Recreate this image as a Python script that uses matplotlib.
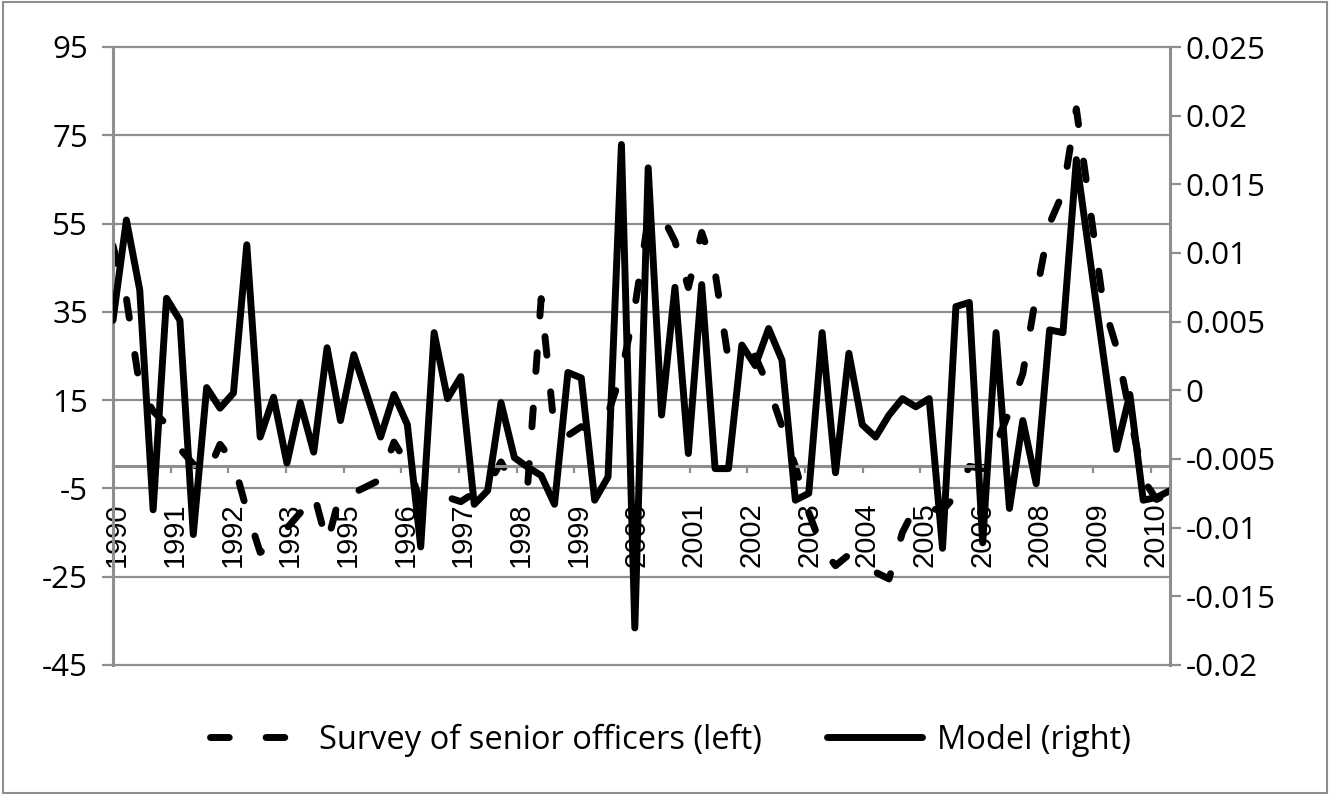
import numpy as np
import matplotlib
matplotlib.use("Agg")
import matplotlib.pyplot as plt
import matplotlib.transforms as mtransforms
from matplotlib.patches import Rectangle

survey = [50, 38, 18, 12.5, 9.5, 4, 0.5, -2, 5, 1,
          -10, -19.5, -17.5, -14, -10.5, -6, -17.5, -6, -6, -4.5,
          -3, 5.5, 0.5, -8, -5.5, -7, -8, -6, -4.5, 1,
          -4.5, -4, 38, 8, 7, 9, 8, 12, 21, 36,
          56, 57, 51, 40.5, 53, 44, 24, 24, 25, 18,
          9, 0, -10.5, -18.5, -22.5, -20, -21.5, -24, -25.5, -15,
          -9, -9.5, -10, -6.5, 0, -0.5, 5, 12.5, 21, 39,
          55, 62, 81, 59, 37, 27, 12, -3, -7.5, -6]

model = [0.0051, 0.0124, 0.0073, -0.0087, 0.0067, 0.0051, -0.0105, 0.0002, -0.0013, -0.0002,
         0.0106, -0.0034, -0.0005, -0.0053, -0.0009, -0.0045, 0.0031, -0.0022, 0.0026, -0.0004,
         -0.0034, -0.0003, -0.0025, -0.0114, 0.0042, -0.0006, 0.0010, -0.0083, -0.0073, -0.0009,
         -0.0049, -0.0056, -0.0062, -0.0083, 0.0013, 0.0009, -0.0080, -0.0063, 0.0179, -0.0173,
         0.0162, -0.0018, 0.0075, -0.0046, 0.0077, -0.0057, -0.0057, 0.0033, 0.0018, 0.0045,
         0.0022, -0.0080, -0.0075, 0.0042, -0.0060, 0.0027, -0.0025, -0.0034, -0.0018, -0.0006,
         -0.0012, -0.0006, -0.0115, 0.0061, 0.0064, -0.0111, 0.0042, -0.0086, -0.0022, -0.0068,
         0.0044, 0.0042, 0.0168, 0.0097, 0.0027, -0.0043, -0.0003, -0.0080, -0.0078, -0.0073]

year_labels = ["1990", "1991", "1992", "1993", "1995", "1996", "1997", "1998", "1999", "2000",
               "2001", "2002", "2003", "2004", "2005", "2006", "2008", "2009", "2010"]

left_ticks = [95, 75, 55, 35, 15, -5, -25, -45]
left_labels = ["95", "75", "55", "35", "15", "-5", "-25", "-45"]
right_ticks = [0.025, 0.02, 0.015, 0.01, 0.005, 0, -0.005, -0.01, -0.015, -0.02]
right_labels = ["0.025", "0.02", "0.015", "0.01", "0.005", "0", "-0.005", "-0.01", "-0.015", "-0.02"]

GRAY = "#8e8e8e"
FONT = ["Open Sans", "DejaVu Sans"]
YEAR_FONT = ["Liberation Sans", "DejaVu Sans"]

x = np.arange(len(survey))
label_step = 4.31  # labels sit a little more than 4 quarters apart
label_pos = np.arange(len(year_labels)) * label_step

fig = plt.figure(figsize=(13.3, 7.95), dpi=100)
fig.patches.append(Rectangle((0.002, 0.003), 0.996, 0.994, transform=fig.transFigure,
                             fill=False, edgecolor=GRAY, linewidth=1.5))

ax = fig.add_axes([113 / 1330, 1 - 665 / 795, 1057 / 1330, 618 / 795])
ax2 = ax.twinx()

ax.plot(x, survey, color="black", linewidth=5, linestyle=(0, (2.7, 5.3)),
        dash_capstyle="round", dash_joinstyle="round",
        label="Survey of senior officers (left)")
ax2.plot(x, model, color="black", linewidth=5, solid_joinstyle="round",
         solid_capstyle="round", label="Model (right)")

ax.set_xlim(0, len(survey) - 1)
ax.set_ylim(-45, 95)
ax2.set_ylim(-0.02, 0.025)

# spines first: moving a spine rebuilds the ticks
ax.spines["top"].set_visible(False)
ax2.spines["top"].set_visible(False)
ax2.spines["bottom"].set_visible(False)
ax2.spines["left"].set_visible(False)
ax.spines["right"].set_visible(False)
ax.spines["bottom"].set_position(("data", 0))
for sp in [ax.spines["left"], ax.spines["bottom"], ax2.spines["right"]]:
    sp.set_color(GRAY)
    sp.set_linewidth(2.2)

ax.set_axisbelow(True)
ax.tick_params(axis="y", length=8, width=1.6, color=GRAY, pad=10, labelcolor="black",
               labelsize=22.5, labelfontfamily=FONT)
ax2.tick_params(axis="y", length=8, width=1.6, color=GRAY, pad=3, labelcolor="black",
                labelsize=22.5, labelfontfamily=FONT)
ax.tick_params(axis="x", length=5, width=1.6, color=GRAY, pad=21, labelcolor="black",
               labelsize=21, labelrotation=90, labelfontfamily=YEAR_FONT)

ax.set_yticks(left_ticks, left_labels)
ax.yaxis.grid(True, color=GRAY, linewidth=1.6)
for gl in ax.get_ygridlines():
    gl.set_clip_on(False)

ax2.set_yticks(right_ticks, right_labels)
ax.set_xticks(label_pos, year_labels)

# year labels sit a few pixels to the right of their ticks
shift = mtransforms.ScaledTranslation(4 / 100, 0, fig.dpi_scale_trans)
for lab in ax.get_xticklabels():
    lab.set_transform(lab.get_transform() + shift)

h1, l1 = ax.get_legend_handles_labels()
h2, l2 = ax2.get_legend_handles_labels()
leg = fig.legend(h1 + h2, l1 + l2, loc="center", bbox_to_anchor=(0.504, 0.069), ncol=2,
                 frameon=False, handlelength=2.9, handletextpad=0.45, columnspacing=2.0,
                 prop={"family": FONT, "size": 23.5})

fig.savefig("out.png", dpi=100)
